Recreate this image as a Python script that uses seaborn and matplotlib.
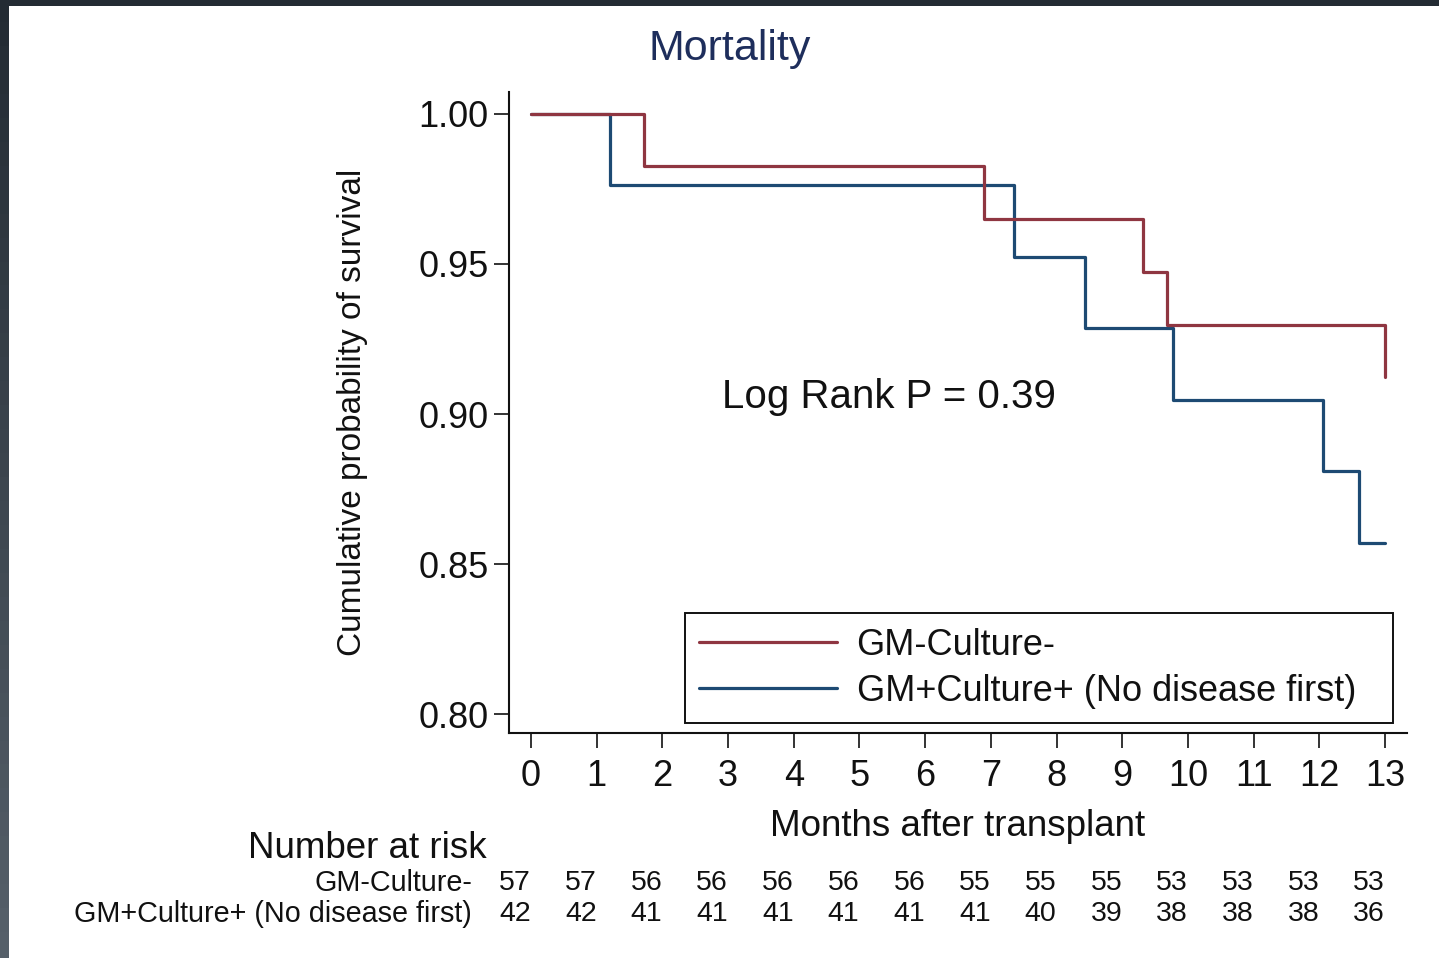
import numpy as np
import pandas as pd
import matplotlib
matplotlib.use("Agg")
import matplotlib.pyplot as plt
import matplotlib.transforms as mtransforms
from matplotlib.patches import Rectangle
import seaborn as sns

# ---------------- data ----------------
groups = ["GM-Culture-", "GM+Culture+ (No disease first)"]
time_neg = [0, 1.72, 6.9, 9.31, 9.68, 13, 13]
surv_neg = [1.0, 0.9825, 0.9649, 0.9474, 0.9298, 0.9298, 0.9123]
time_pos = [0, 1.2, 7.35, 8.43, 9.77, 12.05, 12.6, 13]
surv_pos = [1.0, 0.9762, 0.9524, 0.9286, 0.9048, 0.8810, 0.8571, 0.8571]
risk_times = list(range(14))
risk_neg = [57, 57, 56, 56, 56, 56, 56, 55, 55, 55, 53, 53, 53, 53]
risk_pos = [42, 42, 41, 41, 41, 41, 41, 41, 40, 39, 38, 38, 38, 36]
y_ticks = [0.80, 0.85, 0.90, 0.95, 1.00]
p_text = "Log Rank P = 0.39"

colors = {groups[0]: "#8f3641", groups[1]: "#1d4a73"}

df = pd.concat([
    pd.DataFrame({"time": time_neg, "surv": surv_neg, "group": groups[0]}),
    pd.DataFrame({"time": time_pos, "surv": surv_pos, "group": groups[1]}),
], ignore_index=True)

# ---------------- style ----------------
sns.set_theme(style="white")
plt.rcParams["font.family"] = ["Liberation Sans", "DejaVu Sans"]
plt.rcParams["text.color"] = "#111111"

W, H = 1439, 958
fig = plt.figure(figsize=(W / 100, H / 100), dpi=100)
fig.patch.set_facecolor("white")

# slide border (dark frame at top and left)
fig.patches.append(Rectangle((0, 1 - 6 / H), 1, 6 / H, transform=fig.transFigure,
                             facecolor="#232b33", edgecolor="none", zorder=0))
n_seg = 40
top_c = np.array([0x23, 0x2b, 0x33]) / 255
bot_c = np.array([0x55, 0x5f, 0x69]) / 255
for i in range(n_seg):
    f = i / (n_seg - 1)
    c = top_c * (1 - f) + bot_c * f
    fig.patches.append(Rectangle((0, 1 - (i + 1) / n_seg), 9 / W, 1 / n_seg + 0.002,
                                 transform=fig.transFigure, facecolor=c,
                                 edgecolor="none", zorder=0))

ax_l, ax_r, ax_t, ax_b = 509, 1407, 92, 733
ax = fig.add_axes([ax_l / W, 1 - ax_b / H, (ax_r - ax_l) / W, (ax_b - ax_t) / H])
ax.set_facecolor("white")

sns.lineplot(data=df, x="time", y="surv", hue="group", palette=colors,
             estimator=None, sort=False, drawstyle="steps-post",
             linewidth=2.3, ax=ax, legend=True)
# red (first group) drawn on top, as in the reference
ax.lines[0].set_zorder(3)
ax.lines[1].set_zorder(2)

ax.set_xlim(-0.335, 13.335)
ax.set_ylim(0.79367, 1.00733)
ax.set_xticks(risk_times)
ax.set_yticks(y_ticks)
ax.set_yticklabels([f"{v:.2f}" for v in y_ticks])

for s in ["top", "right"]:
    ax.spines[s].set_visible(False)
for s in ["left", "bottom"]:
    ax.spines[s].set_color("#111111")
    ax.spines[s].set_linewidth(1.5)

ax.tick_params(axis="both", which="major", direction="out", length=10.5, width=1.2,
               color="#111111", labelcolor="#111111", bottom=True, left=True)
ax.tick_params(axis="y", pad=4, labelsize=26)
ax.tick_params(axis="x", pad=8, labelsize=26)
ax.grid(False)

ax.set_xlabel("Months after transplant", fontsize=26.5, color="#111111")
ax.xaxis.set_label_coords(0.5, (ax_b - 826) / (ax_b - ax_t))
ax.xaxis.label.set_verticalalignment("center")
ax.set_ylabel("Cumulative probability of survival", fontsize=24, color="#111111")
ax.yaxis.set_label_coords((352 - ax_l) / (ax_r - ax_l), 0.5)
ax.yaxis.label.set_verticalalignment("center")

fig.suptitle("Mortality", x=730 / W, y=1 - 49 / H, va="center", ha="center",
             fontsize=31, color="#1e2e5c")

ax.text(2.91, 0.9057, p_text, ha="left", va="center", fontsize=29, color="#111111")

handles, labels = ax.get_legend_handles_labels()
leg = ax.legend(handles, labels, loc="lower left",
                bbox_to_anchor=((685 - ax_l) / (ax_r - ax_l), (ax_b - 723) / (ax_b - ax_t),
                                (1393 - 685) / (ax_r - ax_l), (723 - 614) / (ax_b - ax_t)),
                mode="expand", fontsize=26, frameon=True, fancybox=False,
                edgecolor="#111111", framealpha=1, handlelength=3.8,
                handletextpad=0.55, borderpad=0.4, labelspacing=0.3,
                borderaxespad=0, labelcolor="#111111")
leg.get_frame().set_linewidth(1.4)
for line in leg.get_lines():
    line.set_linewidth(2.3)

# number at risk table
trans = mtransforms.blended_transform_factory(ax.transData, fig.transFigure)
fig.text(487 / W, 1 - 849 / H, "Number at risk", ha="right", va="center",
         fontsize=26.5, color="#111111")
fig.text(472 / W, 1 - 883 / H, groups[0], ha="right", va="center",
         fontsize=20.7, color="#111111")
fig.text(472 / W, 1 - 914 / H, groups[1], ha="right", va="center",
         fontsize=20.7, color="#111111")
for t, a, b in zip(risk_times, risk_neg, risk_pos):
    ax.text(t, 1 - 883 / H, str(a), transform=trans, ha="right", va="center",
            fontsize=20.5, color="#111111")
    ax.text(t, 1 - 914 / H, str(b), transform=trans, ha="right", va="center",
            fontsize=20.5, color="#111111")

fig.savefig("out.png", dpi=100, facecolor=fig.get_facecolor())
